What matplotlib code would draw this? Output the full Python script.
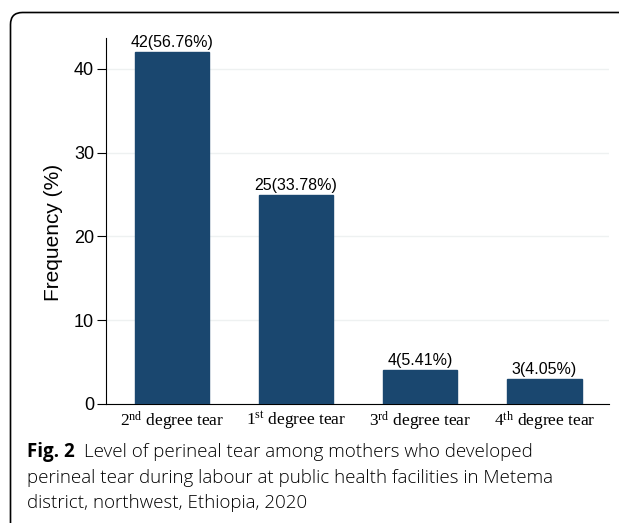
import matplotlib
matplotlib.use("Agg")
import matplotlib.pyplot as plt
from matplotlib.patches import PathPatch
from matplotlib.path import Path
from matplotlib.transforms import Affine2D

categories = [r"2$^{\mathrm{nd}}$ degree tear", r"1$^{\mathrm{st}}$ degree tear",
              r"3$^{\mathrm{rd}}$ degree tear", r"4$^{\mathrm{th}}$ degree tear"]
counts = [42, 25, 4, 3]
percents = ["56.76", "33.78", "5.41", "4.05"]
yticks = [0, 10, 20, 30, 40]

plt.rcParams['mathtext.fontset'] = 'custom'
plt.rcParams['mathtext.rm'] = 'Liberation Serif'
plt.rcParams['mathtext.it'] = 'Liberation Serif:italic'
plt.rcParams['mathtext.bf'] = 'Liberation Serif:bold'

W, H = 621, 523
fig = plt.figure(figsize=(W/100, H/100), dpi=100)

# rounded frame (only top and left edges visible), in pixel units
x0, y0, r = 10.5, H - 12.5, 12
verts = [(x0, -10), (x0, y0 - r), (x0, y0), (x0 + r, y0), (W - 2, y0)]
codes = [Path.MOVETO, Path.LINETO, Path.CURVE3, Path.CURVE3, Path.LINETO]
frame = PathPatch(Path(verts, codes), fill=False, edgecolor="black", linewidth=1.2,
                  capstyle="butt", transform=Affine2D().scale(1/W, 1/H) + fig.transFigure)
fig.patches.append(frame)

ax = fig.add_axes([106/W, 1 - 404/H, (609-106)/W, (404-38)/H])
x = list(range(len(categories)))
bars = ax.bar(x, counts, width=0.6, color="#1a476f", edgecolor="#1a476f", zorder=3)
for xi, c, p in zip(x, counts, percents):
    ax.annotate(f"{c}({p}%)", (xi, c), xytext=(0, 1.5), textcoords="offset points",
                ha="center", va="bottom", fontsize=11.5, family="Liberation Sans")

ax.set_xlim(-0.53, 3.52)
ax.set_ylim(0, 43.7)
ax.set_yticks(yticks)
ax.set_yticklabels([str(t) for t in yticks], family="Liberation Sans", fontsize=13)
ax.set_xticks(x)
ax.set_xticklabels(categories, fontsize=12.5, family="Liberation Serif")
ax.tick_params(axis="x", length=0, pad=4)
ax.tick_params(axis="y", length=6.5, width=0.8, pad=2)
ax.grid(axis="y", color="#eef1f1", linewidth=1.0, zorder=0)
for s in ["top", "right"]:
    ax.spines[s].set_visible(False)
ax.spines["left"].set_linewidth(0.8)
ax.spines["bottom"].set_linewidth(0.8)
ax.set_ylabel("Frequency (%)", family="Liberation Sans", fontsize=15)
ax.yaxis.set_label_coords(-0.0855, 0.47)

# caption
fs = 13.5
fig.text(27/W, 1 - 452/H, r"Fig. 2", fontsize=fs, family="Open Sans", weight="bold", va="center")
fig.text(84/W, 1 - 452/H, "Level of perineal tear among mothers who developed",
         fontsize=fs, family="Open Sans", weight="light", va="center")
fig.text(27/W, 1 - 478/H, "perineal tear during labour at public health facilities in Metema",
         fontsize=fs, family="Open Sans", weight="light", va="center")
fig.text(27/W, 1 - 503/H, "district, northwest, Ethiopia, 2020",
         fontsize=fs, family="Open Sans", weight="light", va="center")

fig.savefig("out.png", dpi=100)
